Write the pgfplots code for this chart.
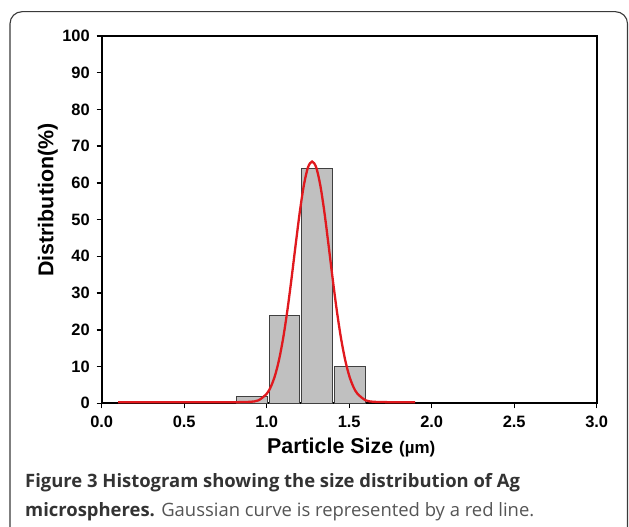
\documentclass[border=0pt]{standalone}
\usepackage{fontspec}
\setmainfont{Liberation Sans}
\newfontfamily\capfont{Open Sans}
\usepackage{pgfplots}
\pgfplotsset{compat=1.18}
\definecolor{barfill}{HTML}{C0C0C0}
\definecolor{baredge}{HTML}{404040}
\definecolor{gausred}{HTML}{E0191E}
\definecolor{capbold}{HTML}{333333}
\definecolor{capreg}{HTML}{555555}
\definecolor{frame}{HTML}{3A3A3A}

\begin{document}
\begin{tikzpicture}[x=1bp,y=1bp]
\useasboundingbox (0,0) rectangle (629,527);
\draw[frame, line width=1.1bp, rounded corners=12bp] (10,-30) rectangle (627.5,515.3);

\begin{axis}[
    at={(101.7bp,123.7bp)}, anchor=south west,
    scale only axis, width=495bp, height=367.4bp,
    xmin=0, xmax=3, ymin=0, ymax=100,
    xtick={0,0.5,...,3}, ytick={0,10,...,100},
    /pgf/number format/assume math mode=true,
    tick label style={font=\fontsize{16.5}{16.5}\selectfont\bfseries},
    xticklabel style={yshift=-4.5bp, /pgf/number format/.cd, fixed, fixed zerofill, precision=1},
    yticklabel style={xshift=-3.5bp},
    tick pos=left, tick align=outside, major tick length=5bp,
    every tick/.style={black, line width=1.4bp},
    axis line style={line width=1.6bp},
    xlabel={Particle Size {\fontsize{17}{17}\selectfont(\textmu m)}},
    ylabel={Distribution(\%)},
    label style={font=\fontsize{21.5}{21.5}\selectfont\bfseries},
    xlabel style={at={(axis description cs:0.504,-0.137)}, anchor=base},
    ylabel style={at={(axis description cs:-0.109,0.553)}, anchor=center},
  ]

\addplot[ybar, bar width=0.183, fill=barfill, draw=baredge, line width=0.9bp]
  coordinates {
    (0.910, 1.9)
    (1.106, 23.8)
    (1.305, 63.8)
    (1.505, 10.0)
  };

\addplot[gausred, line width=2.3bp, smooth, no marks]
  coordinates {
    (0.10, 0.3) (0.50, 0.3) (0.80, 0.3) (0.85, 0.35) (0.90, 0.4)
    (0.95, 0.8) (1.00, 2.6) (1.025, 4.5) (1.05, 7.5) (1.075, 11.9)
    (1.10, 17.8) (1.125, 25.2) (1.15, 33.8) (1.175, 43.0) (1.20, 51.9)
    (1.225, 59.3) (1.25, 64.2) (1.275, 65.8) (1.30, 64.2) (1.325, 59.3)
    (1.35, 51.9) (1.375, 43.0) (1.40, 33.8) (1.425, 25.2) (1.45, 17.8)
    (1.475, 11.9) (1.50, 7.5) (1.525, 4.5) (1.55, 2.6) (1.60, 0.8)
    (1.65, 0.4) (1.70, 0.35) (1.75, 0.3) (1.90, 0.3)
  };

\end{axis}

\node[anchor=base west, inner sep=0, text=capbold] at (25,39.7)
  {\capfont\fontsize{18.5}{20}\selectfont\bfseries Figure 3 Histogram showing the size distribution of Ag};
\node[anchor=base west, inner sep=0, text=capreg] at (25,10.3)
  {\capfont\fontsize{18.5}{20}\selectfont{\color{capbold}\bfseries microspheres.} Gaussian curve is represented by a red line.};
\end{tikzpicture}
\end{document}
